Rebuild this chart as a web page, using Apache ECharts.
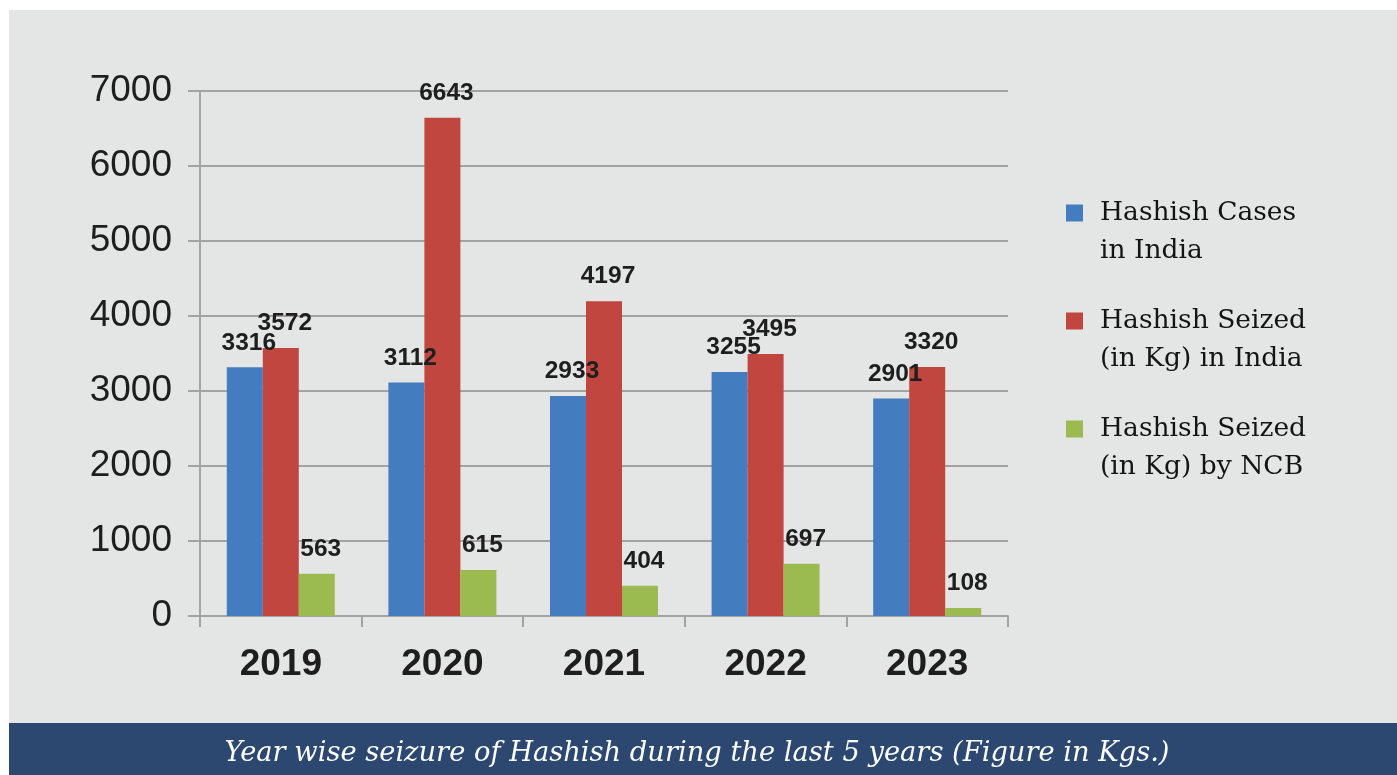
<!DOCTYPE html>
<html>
<head>
<meta charset="utf-8">
<script src="https://cdn.jsdelivr.net/npm/echarts@6/dist/echarts.min.js"></script>
<style>
html,body{margin:0;padding:0;background:#ffffff;}
#chart{width:1397px;height:775px;}
</style>
</head>
<body>
<div id="chart"></div>
<script>
var categories = ['2019', '2020', '2021', '2022', '2023'];
var seriesNames = ['Hashish Cases\nin India', 'Hashish Seized\n(in Kg) in India', 'Hashish Seized\n(in Kg) by NCB'];
var casesIndia = [3316, 3112, 2933, 3255, 2901];
var seizedIndia = [3572, 6643, 4197, 3495, 3320];
var seizedNCB = [563, 615, 404, 697, 108];
var yTicks = [0, 1000, 2000, 3000, 4000, 5000, 6000, 7000];
var titleText = 'Year wise seizure of Hashish during the last 5 years (Figure in Kgs.)';

var colors = ['#437CBF', '#C0463F', '#9BBA4F'];
var values = [casesIndia, seizedIndia, seizedNCB];

var chart = echarts.init(document.getElementById('chart'), null, {renderer: 'canvas'});

var labelStyle = {
  show: true,
  position: 'top',
  distance: 12,
  offset: [4, 0],
  fontFamily: "'Liberation Sans', Arial, sans-serif",
  fontWeight: 'bold',
  fontSize: 24.5,
  color: '#1e1e1e'
};

var series = seriesNames.map(function (name, i) {
  return {
    name: name,
    type: 'bar',
    data: values[i],
    barWidth: 36,
    barGap: '0%',
    itemStyle: {color: colors[i]},
    label: labelStyle,
    z: 3
  };
});

chart.setOption({
  backgroundColor: '#ffffff',
  animation: false,
  graphic: [
    {type: 'rect', shape: {x: 9, y: 10, width: 1388, height: 713}, style: {fill: '#E4E5E5'}, z: -10},
    {type: 'rect', shape: {x: 9, y: 723, width: 1388, height: 52}, style: {fill: '#2C4770'}, z: -10}
  ],
  title: {
    text: titleText,
    left: 692,
    top: 749,
    textAlign: 'center',
    textVerticalAlign: 'middle',
    textStyle: {
      fontFamily: "'DejaVu Serif', serif",
      fontStyle: 'italic',
      fontWeight: 'normal',
      fontSize: 27.3,
      color: '#ffffff'
    }
  },
  legend: {
    orient: 'vertical',
    left: 1066,
    top: 156,
    padding: 0,
    itemWidth: 17,
    itemHeight: 17,
    itemGap: -6,
    icon: 'rect',
    data: seriesNames,
    formatter: function (name) { return '\n' + name; },
    textStyle: {
      fontFamily: "'DejaVu Serif', serif",
      fontSize: 26.5,
      lineHeight: 38,
      color: '#141414',
      padding: [0, 0, 0, 12]
    }
  },
  grid: {
    left: 200,
    right: 389,
    top: 91,
    bottom: 159,
    containLabel: false
  },
  xAxis: {
    type: 'category',
    data: categories,
    axisLine: {show: true, lineStyle: {color: '#A3A3A3', width: 2}},
    axisTick: {show: true, length: 11, lineStyle: {color: '#A3A3A3', width: 2}},
    axisLabel: {
      margin: 30,
      fontFamily: "'Liberation Sans', Arial, sans-serif",
      fontWeight: 'bold',
      fontSize: 37,
      color: '#1e1e1e'
    }
  },
  yAxis: {
    type: 'value',
    min: yTicks[0],
    max: yTicks[yTicks.length - 1],
    interval: 1000,
    axisLine: {show: true, lineStyle: {color: '#A3A3A3', width: 2}},
    axisTick: {show: true, length: 12, lineStyle: {color: '#A3A3A3', width: 2}},
    splitLine: {show: true, lineStyle: {color: '#A3A3A3', width: 2}},
    axisLabel: {
      margin: 28,
      formatter: function (v) { return String(v); },
      fontFamily: "'Liberation Sans', Arial, sans-serif",
      fontSize: 37,
      color: '#1e1e1e'
    }
  },
  series: series
});
</script>
</body>
</html>
